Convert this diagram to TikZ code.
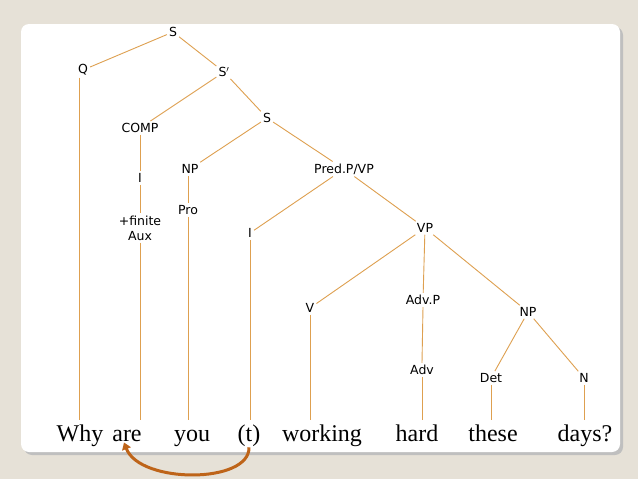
\documentclass[tikz,border=0pt]{standalone}
\usepackage{fontspec}
\setmainfont{Liberation Serif}
\newfontfamily\labfont{DejaVu Sans}
\usetikzlibrary{positioning}
\usetikzlibrary{arrows.meta}
\definecolor{branch}{RGB}{222,160,80}
\definecolor{movebrown}{RGB}{190,100,25}
\definecolor{paper}{RGB}{230,225,215}
\tikzset{
  cat/.style={font=\labfont\fontsize{12.5}{15}\selectfont, inner sep=2pt, align=center},
  word/.style={font=\fontsize{24}{26}\selectfont, inner sep=1pt, anchor=base},
  branchline/.style={draw=branch, line width=0.9pt}
}
\begin{document}
\begin{tikzpicture}[x=1pt,y=-1pt]
                % Background and card
                \fill[paper] (0,0) rectangle (638,479);
                \fill[gray!50, rounded corners=8pt] (24,27) rectangle (623,455);
                \fill[white, rounded corners=8pt] (21,24) rectangle (620,452);
                \useasboundingbox (0,0) rectangle (638,479);

                % Category labels
                \node[cat] (s1) at (173,32) {S};
                \node[cat] (q) at (83,70) {Q};
                \node[cat] (sbar) at (224,72) {S$'$};
                \node[cat] (comp) at (140,128) {COMP};
                \node[cat] (s2) at (267,118) {S};
                \node[cat] (i1) at (140,178) {I};
                \node[cat] (np1) at (190,169) {NP};
                \node[cat] (pred) at (344,169) {Pred.P/VP};
                \node[cat] (aux) at (140,228) {+finite\\Aux};
                \node[cat] (pro) at (188,210) {Pro};
                \node[cat] (i2) at (250,233) {I};
                \node[cat] (vp) at (425,228) {VP};
                \node[cat] (v) at (310,308) {V};
                \node[cat] (advp) at (423,300) {Adv.P};
                \node[cat] (np2) at (528,312) {NP};
                \node[cat] (adv) at (422,370) {Adv};
                \node[cat] (det) at (491,378) {Det};
                \node[cat] (n) at (584,378) {N};
                \coordinate (qgap) at (79,126);
                \coordinate (wordtop) at (0,420);

                % Words
                \node[word] (why) at (80,441) {Why};
                \node[word] (are) at (127,441) {are};
                \node[word] (you) at (192,441) {you};
                \node[word] (t) at (249,441) {(t)};
                \node[word] (working) at (322,441) {working};
                \node[word] (hard) at (417,441) {hard};
                \node[word] (these) at (493,441) {these};
                \node[word] (days) at (585,441) {days?};

                % Branches
                \foreach \a/\b in {s1/q, s1/sbar, sbar/comp, sbar/s2, s2/np1, s2/pred,
                    pred/i2, pred/vp, vp/v, vp/advp, vp/np2, np2/det, np2/n}
                    \draw[branchline] (\a) -- (\b);
                \draw[branchline] (q.south -| qgap) -- ([yshift=-3pt]qgap);
                \draw[branchline] ([yshift=3pt]qgap) -- (wordtop -| qgap);
                \foreach \a/\b in {comp/i1, i1/aux, advp/adv}
                    \draw[branchline] (\a.south) -- (\b.north);
                \draw[branchline] (np1.south -| pro) -- (pro.north);
                \foreach \a in {aux, pro, i2, v, adv, det, n}
                    \draw[branchline] (\a.south) -- (wordtop -| \a.south);

                % Movement arrow
                \draw[movebrown, line width=3pt, -{Triangle[length=7pt,width=9pt]}]
                    (t.south) .. controls (250,484) and (140,484) .. ([xshift=-3pt]are.south);
            \end{tikzpicture}
\end{document}
